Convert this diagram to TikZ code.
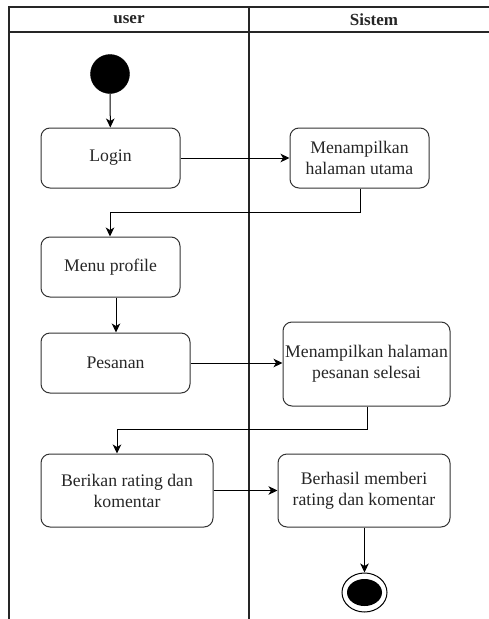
\documentclass[tikz,border=0pt]{standalone}
\usepackage{fontspec}
\setmainfont{Liberation Serif}
\usetikzlibrary{arrows.meta,shapes.geometric}
\begin{document}
\begin{tikzpicture}[x=1pt,y=-1pt,
  lane/.style={line width=1.1pt, draw=black!85},
  act/.style={draw=black!80, line width=1pt, rounded corners=9pt, inner sep=0pt,
    align=center, font=\fontsize{17.7pt}{21pt}\selectfont, text=black!85},
  flow/.style={draw=black, line width=1pt, -{Stealth[length=9pt,width=8.5pt,inset=2.5pt]}},
  hdr/.style={font=\fontsize{17pt}{20pt}\selectfont\bfseries, text=black!85}
]
\path[use as bounding box] (0,0) rectangle (489,619);
% swimlanes
\draw[lane] (489,7) -- (9,7) -- (9,619);
\draw[lane] (9,32) -- (489,32);
\draw[lane] (249,7) -- (249,619);
\node[hdr] (hu) at (129,19.5) {user};
\node[hdr] (hs) at (374,19.5) {Sistem};
% nodes
\node[circle, fill=black, draw=black, minimum size=39pt, inner sep=0pt] (start) at (110,74) {};
\node[act, minimum width=139pt, minimum height=60pt] (login) at (110.5,158) {Login};
\node[act, minimum width=139pt, minimum height=60pt] (utama) at (359.5,158) {Menampilkan\\halaman utama};
\node[act, minimum width=139pt, minimum height=60pt] (menu) at (110.5,267) {Menu profile};
\node[act, minimum width=149pt, minimum height=60pt] (pesan) at (115.5,363) {Pesanan};
\node[act, minimum width=167pt, minimum height=84pt] (selesai) at (366.5,364) {Menampilkan halaman\\pesanan selesai};
\node[act, minimum width=172pt, minimum height=73pt] (rating) at (127,490.5) {Berikan rating dan\\komentar};
\node[act, minimum width=172pt, minimum height=73pt] (hasil) at (364,490.5) {Berhasil memberi\\rating dan komentar};
\node[ellipse, draw=black, line width=1pt, minimum width=45pt, minimum height=39pt, inner sep=0pt] (end) at (364.5,592.5) {};
\node[ellipse, fill=black, minimum width=35pt, minimum height=27pt, inner sep=0pt] (endin) at (end.center) {};
% connectors
\coordinate (c1) at (360,212);
\coordinate (c2) at (110,212);
\coordinate (c3) at (367,429);
\coordinate (c4) at (117,429);
\coordinate (c5) at (116,300);
\draw[flow] (start) -- (login);
\draw[flow] (login) -- (utama.west |- login.east);
\draw[flow] (c1 |- utama.south) -- (c1) -- (c2) -- (c2 |- menu.north);
\draw[flow] (c5 |- menu.south) -- (c5 |- pesan.north);
\draw[flow] (pesan) -- (selesai.west |- pesan.east);
\draw[flow] (c3 |- selesai.south) -- (c3) -- (c4) -- (c4 |- rating.north);
\draw[flow] (rating.east) -- (hasil.west);
\draw[flow] (hasil.south -| end.north) -- (end.north);
\end{tikzpicture}
\end{document}
